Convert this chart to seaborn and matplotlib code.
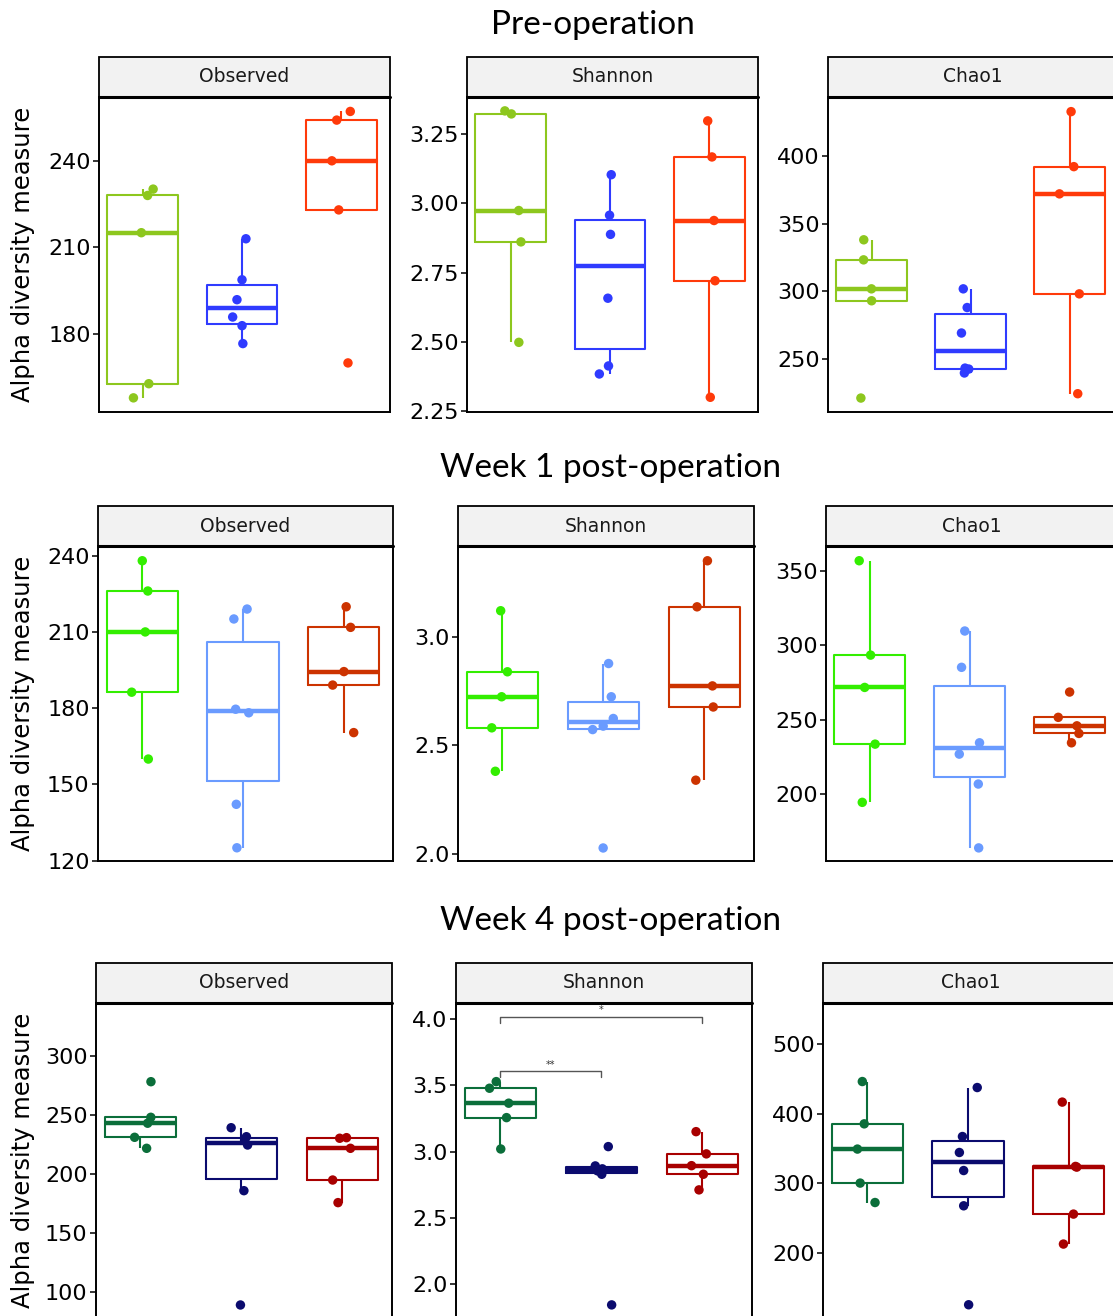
import numpy as np
import pandas as pd
import matplotlib
matplotlib.use("Agg")
import matplotlib.pyplot as plt
from matplotlib.patches import Rectangle
import seaborn as sns

# ---------------- data ----------------
groups = ["Group 1", "Group 2", "Group 3"]
metrics = ["Observed", "Shannon", "Chao1"]
timepoints = ["Pre-operation", "Week 1 post-operation", "Week 4 post-operation"]

# Pre-operation
pre_observed = [[157.9, 162.8, 215.1, 228.0, 230.2],
                [176.7, 182.9, 185.9, 191.9, 198.8, 213.0],
                [170.0, 223.0, 240.0, 254.1, 257.1]]
pre_shannon = [[2.499, 2.861, 2.974, 3.322, 3.333],
               [2.385, 2.414, 2.658, 2.888, 2.957, 3.103],
               [2.301, 2.721, 2.938, 3.167, 3.297]]
pre_chao1 = [[221.3, 293.1, 301.9, 323.3, 338.1],
             [239.8, 242.7, 243.4, 269.3, 288.1, 301.9],
             [224.5, 298.2, 372.0, 392.1, 432.7]]

# Week 1 post-operation
w1_observed = [[160.0, 186.3, 210.0, 226.1, 238.0],
               [125.1, 142.2, 178.2, 179.6, 215.1, 219.0],
               [170.4, 189.1, 194.4, 211.8, 219.9]]
w1_shannon = [[2.381, 2.581, 2.724, 2.839, 3.120],
              [2.028, 2.573, 2.589, 2.624, 2.724, 2.877],
              [2.340, 2.677, 2.774, 3.138, 3.350]]
w1_chao1 = [[194.4, 233.5, 271.6, 293.3, 356.7],
            [163.8, 206.7, 226.8, 234.4, 285.1, 309.5],
            [234.4, 240.7, 245.8, 251.5, 268.5]]

# Week 4 post-operation
w4_observed = [[221.7, 231.0, 242.9, 247.9, 278.0],
               [89.3, 185.9, 224.5, 228.5, 231.5, 239.1],
               [175.8, 194.9, 221.7, 230.2, 230.7]]
w4_shannon = [[3.020, 3.257, 3.366, 3.479, 3.529],
              [1.842, 2.829, 2.855, 2.870, 2.892, 3.038],
              [2.711, 2.829, 2.894, 2.983, 3.151]]
w4_chao1 = [[272.7, 300.6, 349.4, 385.6, 446.3],
            [126.0, 268.0, 318.6, 344.5, 367.4, 437.7],
            [213.1, 256.1, 323.5, 324.5, 416.8]]

# significance comparisons in week-4 Shannon panel: (group a, group b, label)
w4_shannon_sig = [(0, 1, "**"), (0, 2, "*")]

# y ticks per panel
ticks = [
    [[180, 210, 240], [2.25, 2.50, 2.75, 3.00, 3.25], [250, 300, 350, 400]],
    [[120, 150, 180, 210, 240], [2.0, 2.5, 3.0], [200, 250, 300, 350]],
    [[100, 150, 200, 250, 300], [2.0, 2.5, 3.0, 3.5, 4.0], [200, 300, 400, 500]],
]
tick_fmt = [["{:.0f}", "{:.2f}", "{:.0f}"],
            ["{:.0f}", "{:.1f}", "{:.0f}"],
            ["{:.0f}", "{:.1f}", "{:.0f}"]]

palettes = [
    ["#8DC71E", "#2F3BFF", "#FF3A0A"],
    ["#33EE00", "#6A9BFF", "#CC3300"],
    ["#0B6E3A", "#0B0B6E", "#A80000"],
]

data = [[pre_observed, pre_shannon, pre_chao1],
        [w1_observed, w1_shannon, w1_chao1],
        [w4_observed, w4_shannon, w4_chao1]]

# ---------------- layout (pixels) ----------------
W, H = 1113, 1316
ylims = [
    [(153.0, 262.1), (2.248, 3.383), (211.0, 443.5)],
    [(119.9, 243.8), (1.968, 3.418), (155.0, 366.6)],
    [(78.3, 344.5), (1.743, 4.123), (107.0, 559.0)],
]
row_plot_y = [(97, 412), (546, 861), (1003, 1318)]
panel_x = [
    [(99, 390), (467, 758), (828, 1118)],
    [(98, 393), (458, 754), (826, 1118)],
    [(96, 392), (456, 752), (823, 1118)],
]
strip_h = 40
title_pos = [(593, 25), (611, 468), (611, 921)]

sns.set_style("white")
plt.rcParams["font.family"] = ["DejaVu Sans"]

fig = plt.figure(figsize=(W / 100, H / 100), dpi=100)
fig.patch.set_facecolor("white")

for r in range(3):
    y0, y1 = row_plot_y[r]
    for c in range(3):
        x0, x1 = panel_x[r][c]
        ax = fig.add_axes([x0 / W, 1 - y1 / H, (x1 - x0) / W, (y1 - y0) / H])
        vals = data[r][c]
        df = pd.DataFrame({
            "group": [groups[i] for i in range(3) for _ in vals[i]],
            "value": [v for i in range(3) for v in vals[i]],
        })
        pal = dict(zip(groups, palettes[r]))
        sns.boxplot(data=df, x="group", y="value", hue="group", order=groups,
                    hue_order=groups, palette=pal, fill=False, width=0.71,
                    showfliers=False, showcaps=False, linewidth=1.5,
                    medianprops=dict(linewidth=3.2), legend=False, ax=ax)
        np.random.seed(3 * r + c + 7)
        sns.stripplot(data=df, x="group", y="value", hue="group", order=groups,
                      hue_order=groups, palette=pal, jitter=0.11, size=6.8,
                      linewidth=0, legend=False, ax=ax, zorder=4)
        ax.set_xlim(-0.44, 2.49)
        ax.set_ylim(*ylims[r][c])
        ax.set_xticks([])
        ax.set_xlabel("")
        ax.set_ylabel("")
        ax.set_yticks(ticks[r][c])
        ax.set_yticklabels([tick_fmt[r][c].format(t) for t in ticks[r][c]])
        ax.tick_params(axis="y", left=True, length=4, width=1.1, color="black",
                       labelsize=16, labelcolor="black", pad=2)
        for sp in ax.spines.values():
            sp.set_visible(True)
            sp.set_color("black")
            sp.set_linewidth(1.4)
        sh = strip_h / (y1 - y0)
        ax.add_patch(Rectangle((0, 1), 1, sh, transform=ax.transAxes,
                               facecolor="#F2F2F2", edgecolor="black",
                               linewidth=1.3, clip_on=False, zorder=5))
        ax.plot([0, 1], [1, 1], transform=ax.transAxes, color="black",
                lw=2.2, clip_on=False, zorder=6)
        ax.text(0.5, 1 + sh / 2, metrics[c], transform=ax.transAxes,
                ha="center", va="center", fontsize=13.5, color="#1a1a1a", zorder=7)
        if c == 0:
            fig.text(23 / W, 1 - ((y0 + y1) / 2) / H, "Alpha diversity measure",
                     rotation=90, ha="center", va="center", fontsize=17.5,
                     color="black")
        if r == 2 and c == 1:
            levels = {1: 3.61, 2: 4.02}
            for a, b, lab in w4_shannon_sig:
                yb = levels[b - a]
                ax.plot([a, a, b, b], [yb - 0.045, yb, yb, yb - 0.045],
                        color="#555555", lw=1.0, zorder=3)
                ax.text((a + b) / 2, yb + 0.01, lab, ha="center", va="bottom",
                        fontsize=7, color="#333333")
    tx, ty = title_pos[r]
    fig.text(tx / W, 1 - ty / H, timepoints[r], ha="center", va="center",
             fontsize=24, family=["Lato", "DejaVu Sans"], color="black")

fig.savefig("out.png", dpi=100)
